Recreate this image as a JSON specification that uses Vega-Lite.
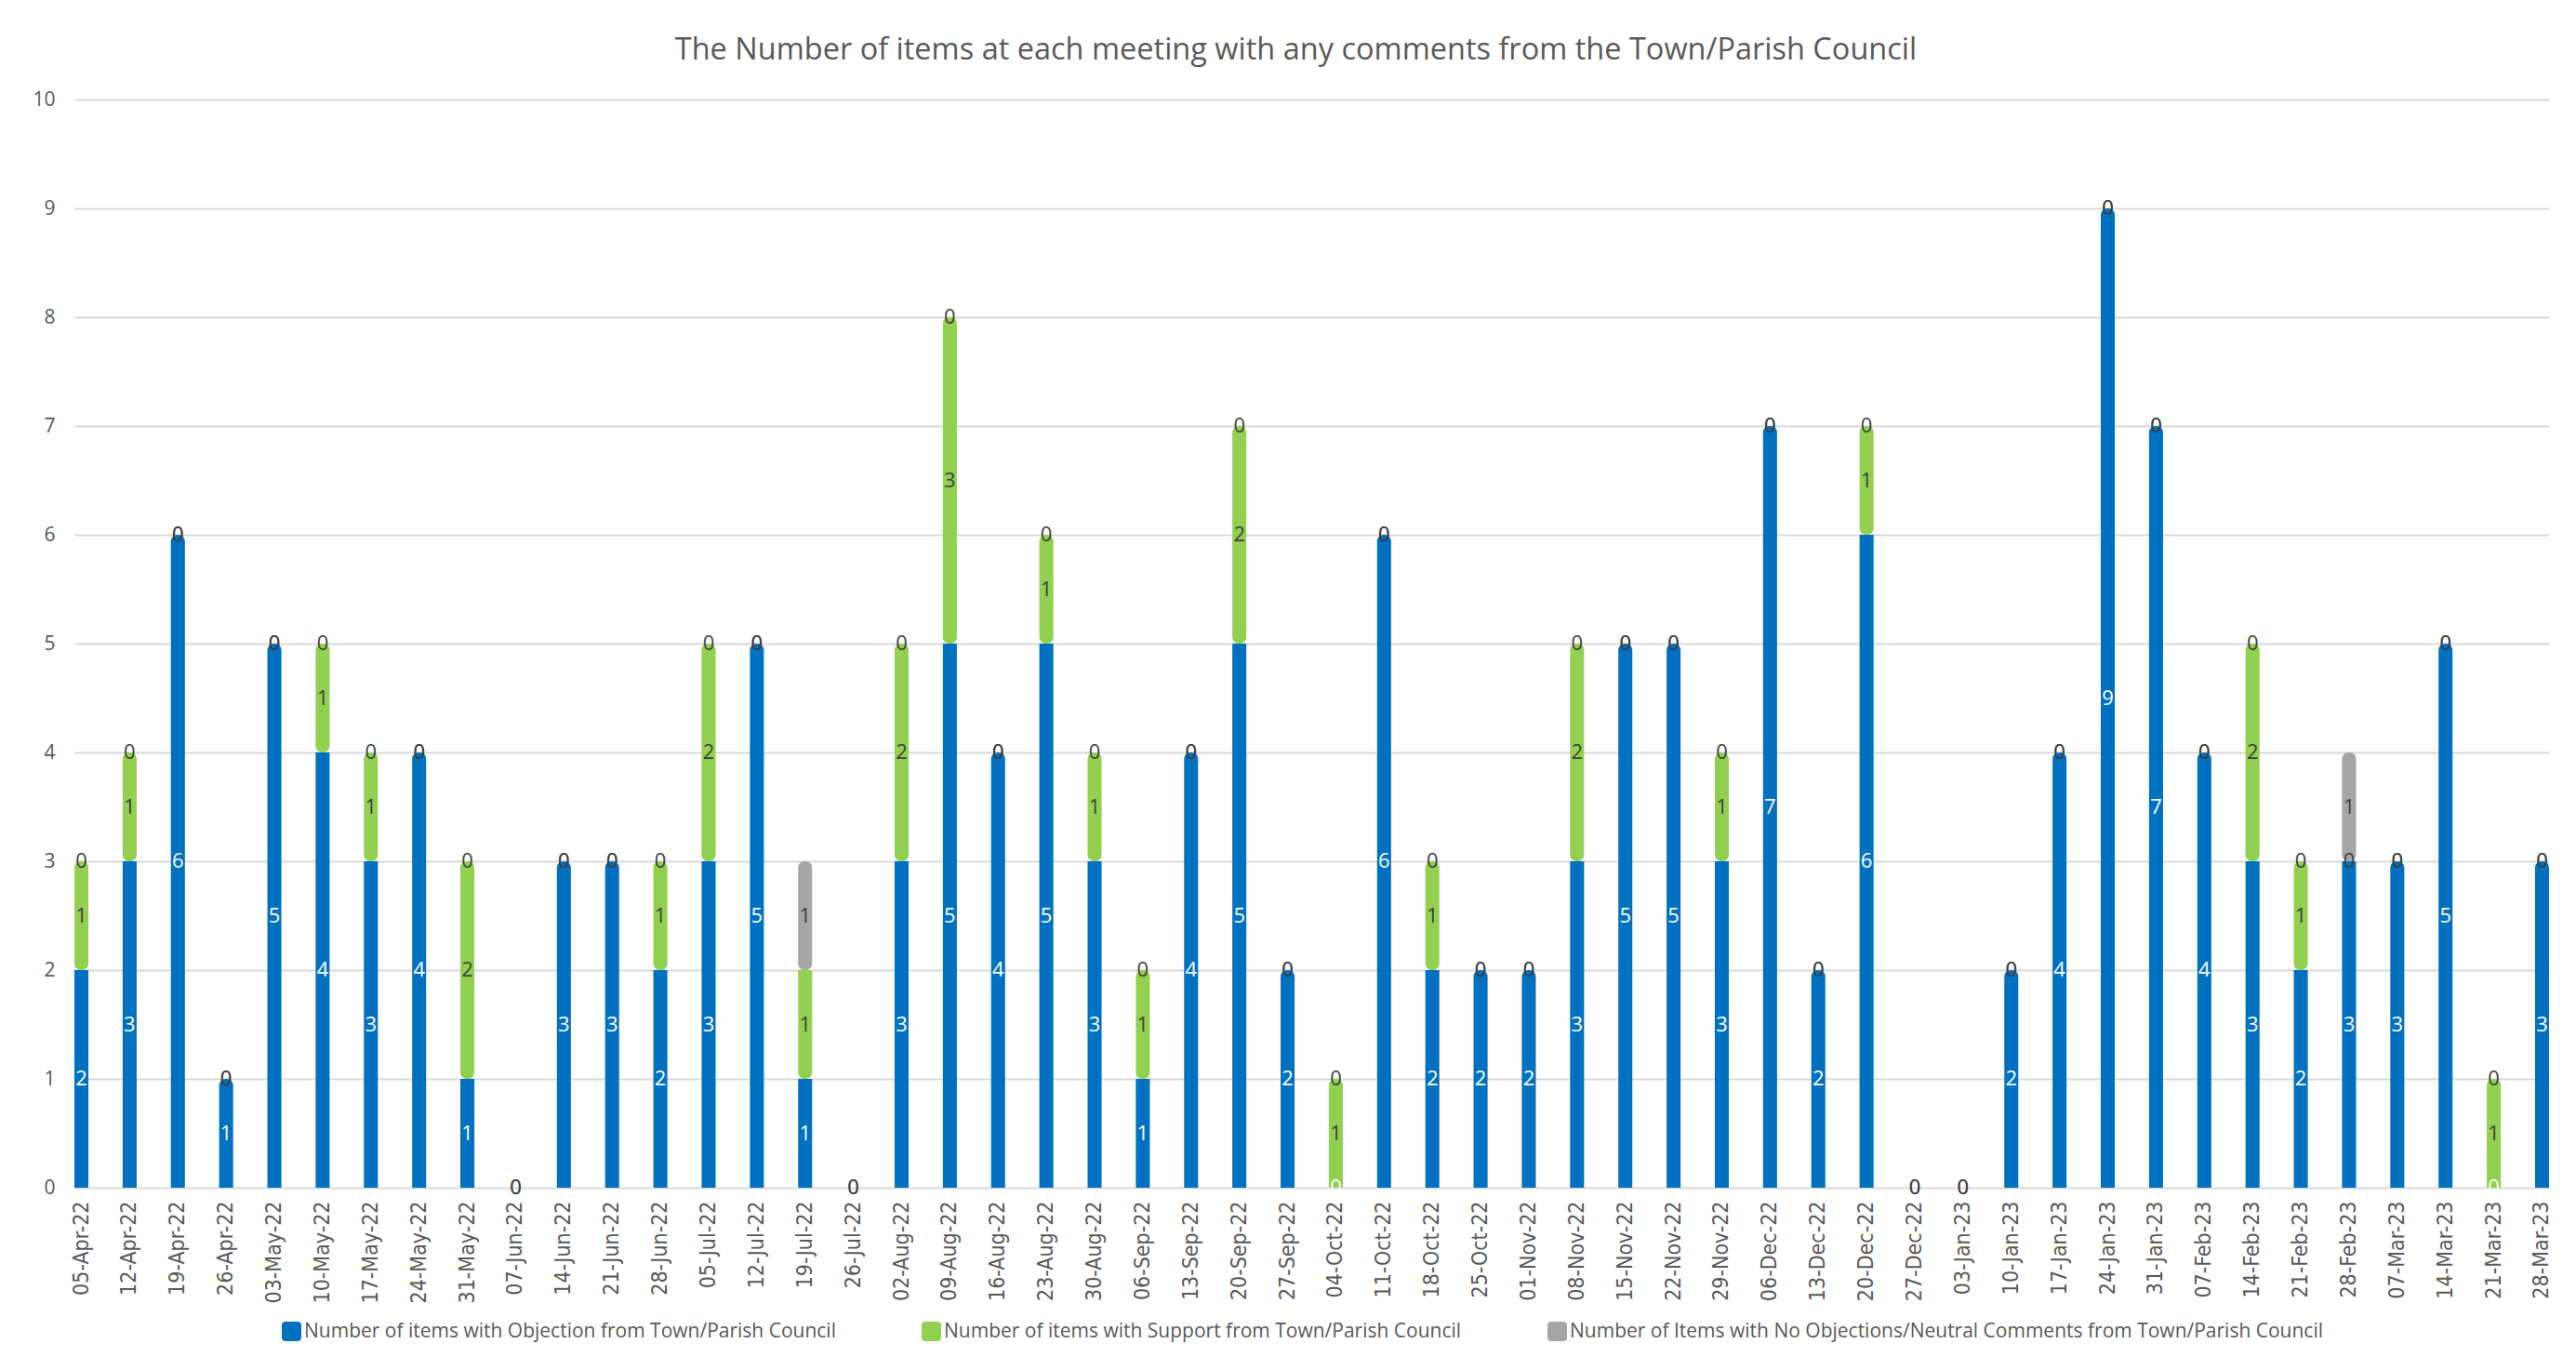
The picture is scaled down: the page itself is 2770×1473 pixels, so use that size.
{
  "$schema": "https://vega.github.io/schema/vega-lite/v6.json",
  "autosize": {"type": "none"},
  "padding": {"left": 80, "top": 107, "right": 29, "bottom": 196},
  "width": 2661,
  "height": 1170,
  "background": "white",
  "title": {"text": "The Number of items at each meeting with any comments from the Town/Parish Council", "font": "Open Sans", "fontSize": 32.5, "fontWeight": "normal", "color": "#595959", "anchor": "middle", "offset": 26, "dx": -17},
  "config": {"view": {"stroke": null}},
  "data": {"values": [
    {"date": "2022-04-05", "obj": 2, "sup": 1, "neu": 0},
    {"date": "2022-04-12", "obj": 3, "sup": 1, "neu": 0},
    {"date": "2022-04-19", "obj": 6, "sup": 0, "neu": 0},
    {"date": "2022-04-26", "obj": 1, "sup": 0, "neu": 0},
    {"date": "2022-05-03", "obj": 5, "sup": 0, "neu": 0},
    {"date": "2022-05-10", "obj": 4, "sup": 1, "neu": 0},
    {"date": "2022-05-17", "obj": 3, "sup": 1, "neu": 0},
    {"date": "2022-05-24", "obj": 4, "sup": 0, "neu": 0},
    {"date": "2022-05-31", "obj": 1, "sup": 2, "neu": 0},
    {"date": "2022-06-07", "obj": 0, "sup": 0, "neu": 0},
    {"date": "2022-06-14", "obj": 3, "sup": 0, "neu": 0},
    {"date": "2022-06-21", "obj": 3, "sup": 0, "neu": 0},
    {"date": "2022-06-28", "obj": 2, "sup": 1, "neu": 0},
    {"date": "2022-07-05", "obj": 3, "sup": 2, "neu": 0},
    {"date": "2022-07-12", "obj": 5, "sup": 0, "neu": 0},
    {"date": "2022-07-19", "obj": 1, "sup": 1, "neu": 1},
    {"date": "2022-07-26", "obj": 0, "sup": 0, "neu": 0},
    {"date": "2022-08-02", "obj": 3, "sup": 2, "neu": 0},
    {"date": "2022-08-09", "obj": 5, "sup": 3, "neu": 0},
    {"date": "2022-08-16", "obj": 4, "sup": 0, "neu": 0},
    {"date": "2022-08-23", "obj": 5, "sup": 1, "neu": 0},
    {"date": "2022-08-30", "obj": 3, "sup": 1, "neu": 0},
    {"date": "2022-09-06", "obj": 1, "sup": 1, "neu": 0},
    {"date": "2022-09-13", "obj": 4, "sup": 0, "neu": 0},
    {"date": "2022-09-20", "obj": 5, "sup": 2, "neu": 0},
    {"date": "2022-09-27", "obj": 2, "sup": 0, "neu": 0},
    {"date": "2022-10-04", "obj": 0, "sup": 1, "neu": 0},
    {"date": "2022-10-11", "obj": 6, "sup": 0, "neu": 0},
    {"date": "2022-10-18", "obj": 2, "sup": 1, "neu": 0},
    {"date": "2022-10-25", "obj": 2, "sup": 0, "neu": 0},
    {"date": "2022-11-01", "obj": 2, "sup": 0, "neu": 0},
    {"date": "2022-11-08", "obj": 3, "sup": 2, "neu": 0},
    {"date": "2022-11-15", "obj": 5, "sup": 0, "neu": 0},
    {"date": "2022-11-22", "obj": 5, "sup": 0, "neu": 0},
    {"date": "2022-11-29", "obj": 3, "sup": 1, "neu": 0},
    {"date": "2022-12-06", "obj": 7, "sup": 0, "neu": 0},
    {"date": "2022-12-13", "obj": 2, "sup": 0, "neu": 0},
    {"date": "2022-12-20", "obj": 6, "sup": 1, "neu": 0},
    {"date": "2022-12-27", "obj": 0, "sup": 0, "neu": 0},
    {"date": "2023-01-03", "obj": 0, "sup": 0, "neu": 0},
    {"date": "2023-01-10", "obj": 2, "sup": 0, "neu": 0},
    {"date": "2023-01-17", "obj": 4, "sup": 0, "neu": 0},
    {"date": "2023-01-24", "obj": 9, "sup": 0, "neu": 0},
    {"date": "2023-01-31", "obj": 7, "sup": 0, "neu": 0},
    {"date": "2023-02-07", "obj": 4, "sup": 0, "neu": 0},
    {"date": "2023-02-14", "obj": 3, "sup": 2, "neu": 0},
    {"date": "2023-02-21", "obj": 2, "sup": 1, "neu": 0},
    {"date": "2023-02-28", "obj": 3, "sup": 0, "neu": 1},
    {"date": "2023-03-07", "obj": 3, "sup": 0, "neu": 0},
    {"date": "2023-03-14", "obj": 5, "sup": 0, "neu": 0},
    {"date": "2023-03-21", "obj": 0, "sup": 1, "neu": 0},
    {"date": "2023-03-28", "obj": 3, "sup": 0, "neu": 0}
  ]},
  "transform": [
    {"fold": ["obj", "sup", "neu"], "as": ["series", "value"]},
    {"calculate": "indexof(['obj','sup','neu'], datum.series)", "as": "order"},
    {"stack": "value", "groupby": ["date"], "sort": [{"field": "order", "order": "ascending"}], "as": ["y0", "y1"]},
    {"joinaggregate": [{"op": "max", "field": "y1", "as": "total"}], "groupby": ["date"]},
    {"calculate": "(datum.y0 + datum.y1) / 2", "as": "mid"}
  ],
  "encoding": {
    "x": {
      "field": "date", "type": "ordinal",
      "scale": {"paddingInner": 0.71, "paddingOuter": 0},
      "axis": {
        "title": null, "labelExpr": "utcFormat(toDate(datum.value), '%d-%b-%y')",
        "labelAngle": 270, "labelFont": "'DejaVu Sans Condensed', 'Open Sans', sans-serif", "labelFontSize": 23,
        "labelColor": "#595959", "labelPadding": 14, "ticks": false, "domain": false, "grid": false
      }
    }
  },
  "layer": [
    {
      "transform": [{"filter": "datum.value > 0 && datum.y0 == 0 && datum.y1 < datum.total"}],
      "mark": {"type": "bar"},
      "encoding": {
        "y": {"field": "y0", "type": "quantitative", "scale": {"domain": [0, 10]},
          "axis": {"title": null, "tickCount": 10, "labelFont": "Open Sans", "labelFontSize": 21, "labelColor": "#595959", "labelPadding": 21, "ticks": false, "domain": false, "gridColor": "#D9D9D9", "gridWidth": 2}},
        "y2": {"field": "y1"},
        "color": {"field": "series", "type": "nominal",
          "scale": {"domain": ["obj", "sup", "neu"], "range": ["#0070C0", "#92D050", "#A5A5A5"]},
          "legend": {
            "orient": "none", "legendX": 223, "legendY": 1314, "direction": "horizontal", "columns": 3,
            "title": null, "labelFont": "Open Sans", "labelFontSize": 21, "labelColor": "#595959",
            "labelLimit": 0, "labelOffset": 3, "columnPadding": 92,
            "symbolType": "M-1,-0.6 Q-1,-1 -0.6,-1 L0.6,-1 Q1,-1 1,-0.6 L1,0.6 Q1,1 0.6,1 L-0.6,1 Q-1,1 -1,0.6 Z",
            "symbolSize": 441, "symbolStrokeWidth": 0, "symbolOpacity": 1,
            "labelExpr": "datum.value == 'obj' ? 'Number of items with Objection from Town/Parish Council' : datum.value == 'sup' ? 'Number of items with Support from Town/Parish Council' : 'Number of Items with No Objections/Neutral Comments from Town/Parish Council'"
          }}
      }
    },
    {
      "transform": [{"filter": "datum.value > 0 && datum.y0 > 0 && datum.y1 < datum.total"}],
      "mark": {"type": "bar", "cornerRadiusBottomLeft": 7, "cornerRadiusBottomRight": 7},
      "encoding": {
        "y": {"field": "y0", "type": "quantitative"},
        "y2": {"field": "y1"},
        "color": {"field": "series", "type": "nominal"}
      }
    },
    {
      "transform": [{"filter": "datum.value > 0 && datum.y0 == 0 && datum.y1 == datum.total"}],
      "mark": {"type": "bar", "cornerRadiusTopLeft": 7, "cornerRadiusTopRight": 7},
      "encoding": {
        "y": {"field": "y0", "type": "quantitative"},
        "y2": {"field": "y1"},
        "color": {"field": "series", "type": "nominal"}
      }
    },
    {
      "transform": [{"filter": "datum.value > 0 && datum.y0 > 0 && datum.y1 == datum.total"}],
      "mark": {"type": "bar", "cornerRadius": 7},
      "encoding": {
        "y": {"field": "y0", "type": "quantitative"},
        "y2": {"field": "y1"},
        "color": {"field": "series", "type": "nominal"}
      }
    },
    {
      "mark": {"type": "text", "font": "Open Sans", "fontSize": 22, "baseline": "middle", "align": "center"},
      "encoding": {
        "y": {"field": "mid", "type": "quantitative"},
        "text": {"field": "value", "type": "quantitative"},
        "color": {"condition": {"test": "datum.series == 'obj'", "value": "white"}, "value": "#404040"}
      }
    }
  ]
}
